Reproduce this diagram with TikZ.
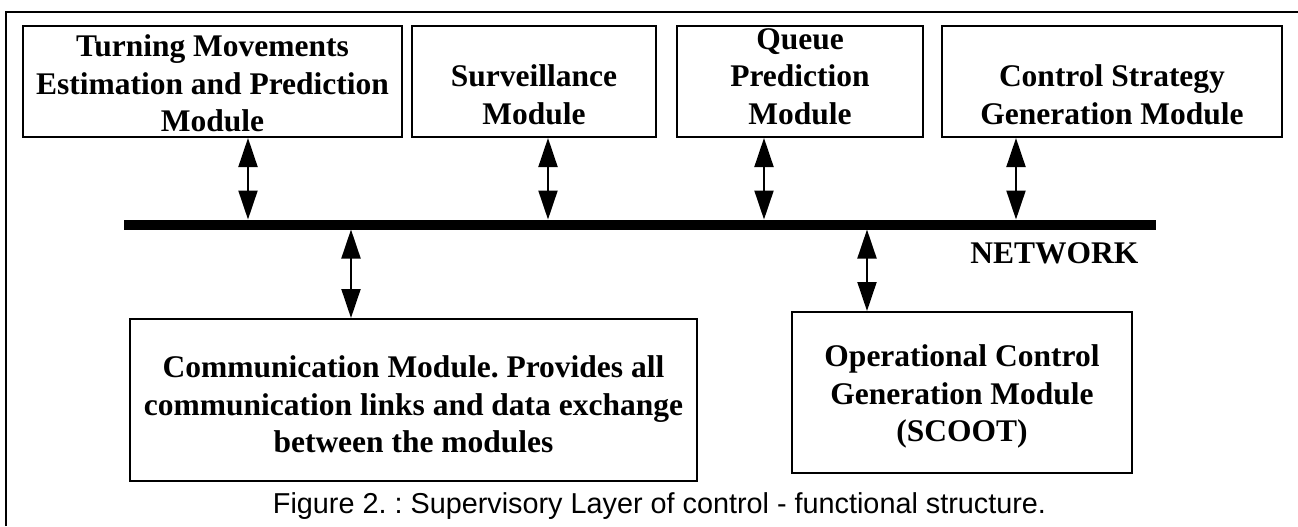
\documentclass[tikz,border=0pt]{standalone}
\usepackage{fontspec}
\setmainfont{Liberation Serif}
\newfontfamily\capfont{Liberation Sans}
\usetikzlibrary{arrows.meta}
\frenchspacing

\tikzset{
  modbox/.style={draw, line width=1pt, inner sep=0pt},
  modtext/.style={align=center, inner sep=0pt,
    font=\fontsize{15.75}{18.75}\selectfont\bfseries},
  link/.style={line width=1pt,
    {Triangle[length=14.5pt,width=9.5pt]}-{Triangle[length=14.5pt,width=9.5pt]}},
  bus/.style={line width=5pt},
}

\begin{document}
\begin{tikzpicture}[x=0.5pt,y=-0.5pt]
    \useasboundingbox (0,0) rectangle (1298,526);
    \draw[line width=1pt] (6,526) -- (6,12) -- (1298,12);

    \node[modbox, minimum width=189.5pt, minimum height=55.5pt] (turn) at (212.5,81.5) {};
    \node[modtext] (turntext) at (212.5,83.5) {Turning Movements\\Estimation and Prediction\\Module};

    \node[modbox, minimum width=122pt, minimum height=55.5pt] (surv) at (534,81.5) {};
    \node[modtext] (survtext) at (534,95) {Surveillance\\Module};

    \node[modbox, minimum width=123pt, minimum height=55.5pt] (queue) at (800,81.5) {};
    \node[modtext] (queuetext) at (800,76.5) {Queue\\Prediction\\Module};

    \node[modbox, minimum width=170pt, minimum height=55.5pt] (ctrl) at (1112,81.5) {};
    \node[modtext] (ctrltext) at (1112,95) {Control Strategy\\Generation Module};

    % the network bus
    \coordinate (busW) at (124,224.5);
    \coordinate (busE) at (1156,224.5);
    \draw[bus] (busW) -- (busE);
    \node[modtext, anchor=base west] (net) at (970,263) {NETWORK};

    \coordinate (tapturn) at (248,219.5);
    \coordinate (tapsurv) at (548,219.5);
    \coordinate (tapqueue) at (764,219.5);
    \coordinate (tapctrl) at (1016,219.5);
    \coordinate (tapcomm) at (351,229.5);
    \coordinate (tapscoot) at (867,229.5);

    \draw[link] (tapturn |- turn.south) -- (tapturn);
    \draw[link] (tapsurv |- surv.south) -- (tapsurv);
    \draw[link] (tapqueue |- queue.south) -- (tapqueue);
    \draw[link] (tapctrl |- ctrl.south) -- (tapctrl);

    \node[modbox, minimum width=283.5pt, minimum height=81pt] (comm) at (413.5,400) {};
    \node[modtext] (commtext) at (413.5,404.5) {Communication Module. Provides all\\communication links and data exchange\\between the modules};

    \node[modbox, minimum width=170pt, minimum height=80.5pt] (scoot) at (962,392.5) {};
    \node[modtext] (scoottext) at (962,396.5) {Operational Control\\Generation Module\\(SCOOT)};

    \draw[link] (tapcomm) -- (tapcomm |- comm.north);
    \draw[link] (tapscoot) -- (tapscoot |- scoot.north);

    \node[anchor=base, inner sep=0pt, font=\capfont\fontsize{14.4}{16}\selectfont] (caption) at (659.5,513)
        {Figure 2. : Supervisory Layer of control - functional structure.};
\end{tikzpicture}
\end{document}
